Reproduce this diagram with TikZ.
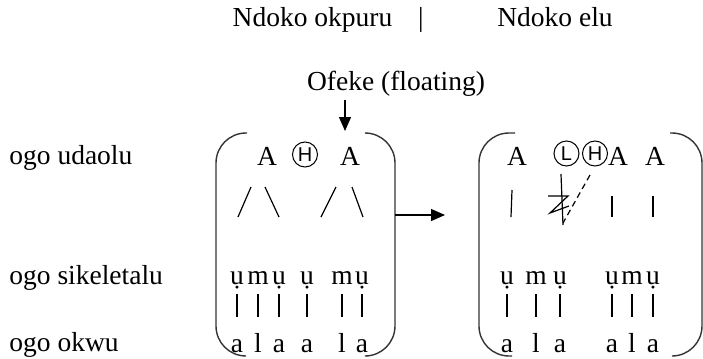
\documentclass[tikz,border=0pt]{standalone}
\usepackage{fontspec}
\setmainfont{Liberation Serif}
\newfontfamily\ringfont{Liberation Sans}
\usetikzlibrary{arrows.meta, positioning}

\begin{document}
\begin{tikzpicture}[
      x=0.5pt, y=-0.5pt,
      every node/.style={font=\fontsize{13.75}{16}\selectfont},
      head/.style={anchor=base, inner sep=0pt},
      tier/.style={anchor=base west, inner sep=0pt},
      tone/.style={anchor=base, inner sep=0pt},
      ring/.style={circle, draw, line width=0.5pt, inner sep=0pt, minimum size=12.5pt, font=\ringfont\fontsize{10}{10}\selectfont},
      skel/.style={anchor=base, inner sep=0pt, text height=7pt, text depth=2pt},
      seg/.style={anchor=base, inner sep=0pt, text height=8pt, text depth=0pt},
      assoc/.style={line width=0.6pt},
      link/.style={assoc, shorten <=3pt, shorten >=9.5pt},
      paren/.style={line width=0.7pt, black!80, rounded corners=15pt}
      ]
      \useasboundingbox (0,0) rectangle (703,359);

      % Headings
      \node[head] (okpuru) at (312.5,26) {Ndoko okpuru};
      \node[head] (divider) at (421,26) {|};
      \node[head] (elu) at (555,26) {Ndoko elu};
      \node[head] (ofeke) at (396,90) {Ofeke (floating)};

      % Tier names
      \node[tier] (udaolu) at (9,164) {ogo udaolu};
      \node[tier] (sikeletalu) at (9,284) {ogo sikeletalu};
      \node[tier] (okwu) at (9,351) {ogo okwu};

      % Tone tier
      \node[tone] (la1) at (267,165) {A};
      \node[ring] (lh) at (305,154.5) {H};
      \node[tone] (la2) at (350,165) {A};
      \node[tone] (ra1) at (517,165) {A};
      \node[ring] (rl) at (566.5,153.5) {L};
      \node[ring] (rh) at (595,153.5) {H};
      \node[tone] (ra2) at (618,165) {A};
      \node[tone] (ra3) at (655,165) {A};

      % Skeleton and segments
      \foreach \x/\s/\c [count=\i] in {237/ụ/a, 258/m/l, 279/ụ/a, 307/ụ/a, 342/m/l, 362/ụ/a,
                                        507/ụ/a, 536/m/l, 560/ụ/a, 612/ụ/a, 632/m/l, 653/ụ/a} {
        \node[skel] (s\i) at (\x,284) {\s};
        \node[seg] (c\i) at (\x,352) {\c};
        \draw[link] (s\i) -- (c\i);
      }

      % Tone lines
      \foreach \xa/\ya/\xb/\yb in {251/187/238/217, 265/187/279/217, 336/187/321/217, 352/187/363/217,
                                   512/190/511/217, 612/196/612/217, 653/196/653/217}
        \draw[assoc] (\xa,\ya) -- (\xb,\yb);
      \draw[assoc] (561,174) -- (563,225);
      \draw[assoc] (548,196) -- (568,196) -- (550,213) -- (569,206);
      \draw[assoc, dash pattern=on 3pt off 2pt] (590,175) -- (563,223);

      % Brackets
      \draw[paren] (247,133) -- (216,133) -- (216,356) -- (246,356);
      \draw[paren] (366,133) -- (395,133) -- (395,356) -- (366,356);
      \draw[paren] (515,133) -- (479,133) -- (479,356) -- (512,356);
      \draw[paren] (670,133) -- (702,133) -- (702,356) -- (672,356);

      % Arrows
      \coordinate (drop) at (345,131);
      \coordinate (lout) at (395,215);
      \coordinate (rin) at (445,215);
      \draw[assoc, -{Triangle[length=7pt,width=6pt]}, shorten <=2pt] (ofeke.south -| drop) -- (drop);
      \draw[assoc, -{Triangle[length=7pt,width=6pt]}] (lout) -- (rin);
    \end{tikzpicture}
\end{document}
